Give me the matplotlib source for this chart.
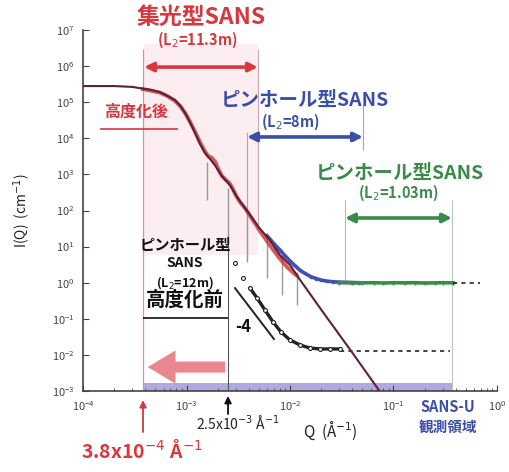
import numpy as np
import matplotlib
matplotlib.use("Agg")
import matplotlib.pyplot as plt
from matplotlib.patches import FancyArrowPatch

plt.rcParams["font.family"] = ["Noto Sans CJK JP", "DejaVu Sans"]
plt.rcParams["mathtext.fontset"] = "dejavusans"

# model curve (solid dark line)
model_q = [1e-4, 2e-4, 3.0e-4, 3.56e-4, 4.5e-4, 5.55e-4, 6.5e-4, 7.74e-4, 8.7e-4, 9.7e-4,
           1.08e-3, 1.21e-3, 1.35e-3, 1.51e-3, 1.7e-3, 1.88e-3, 2.2e-3, 2.63e-3, 3.2e-3,
           4.11e-3, 5.0e-3, 6.41e-3, 8.0e-3, 1.0e-2, 1.25e-2, 2.0e-2, 4.0e-2, 7.0e-2, 8.0e-2]
model_i = [2.8e5, 2.8e5, 2.65e5, 2.45e5, 2.2e5, 1.9e5, 1.5e5, 1.15e5, 8.0e4, 5.0e4,
           2.8e4, 1.4e4, 7.0e3, 3.9e3, 2.6e3, 1.8e3, 9.0e2, 5.0e2, 2.0e2,
           7.6e1, 3.4e1, 1.5e1, 5.8, 3.1, 1.2, 0.18, 1.15e-2, 1.2e-3, 7e-4]

# focusing SANS data (red, after upgrade)
red_q = [3.8e-4, 4.5e-4, 5.5e-4, 6.5e-4, 7.7e-4, 8.7e-4, 9.7e-4, 1.08e-3, 1.2e-3, 1.35e-3,
         1.5e-3, 1.62e-3, 1.75e-3, 1.9e-3, 2.05e-3, 2.2e-3, 2.4e-3, 2.6e-3, 2.8e-3, 3.0e-3,
         3.3e-3, 3.6e-3, 3.9e-3, 4.3e-3, 4.7e-3, 5.2e-3, 5.7e-3, 6.3e-3, 7.0e-3, 7.8e-3,
         8.6e-3, 9.5e-3, 1.05e-2, 1.15e-2]
red_i = [2.3e5, 2.1e5, 1.85e5, 1.5e5, 1.1e5, 7.8e4, 5.0e4, 2.9e4, 1.6e4, 7.8e3,
         4.4e3, 3.2e3, 2.9e3, 2.2e3, 1.3e3, 9.0e2, 7.0e2, 5.8e2, 4.0e2, 2.6e2,
         1.7e2, 1.25e2, 9.0e1, 5.8e1, 4.0e1, 2.5e1, 1.75e1, 1.15e1, 7.6, 5.0,
         3.6, 2.6, 2.0, 1.6]

# error bars of red data reaching down (gray)
err_q = [1.58e-3, 2.52e-3, 3.85e-3, 6.0e-3, 8.4e-3, 1.17e-2]
err_top = [2.2e3, 4.2e2, 1.0e2, 21, 5.9, 2.0]
err_bot = [1.95e2, 13, 3.7, 1.35, 0.46, 0.24]

# pinhole SANS L2=8m (blue)
blue_q = [6e-3, 7e-3, 8e-3, 9e-3, 1.0e-2, 1.1e-2, 1.25e-2, 1.4e-2, 1.6e-2, 1.8e-2,
          2.0e-2, 2.3e-2, 2.6e-2, 3.0e-2, 3.5e-2, 4.0e-2, 4.6e-2]
blue_i = [20, 12, 8.0, 5.5, 4.0, 3.1, 2.2, 1.8, 1.45, 1.3,
          1.18, 1.1, 1.06, 1.04, 1.02, 1.01, 1.0]

# pinhole SANS L2=1.03m (green)
green_q = [0.030, 0.04, 0.05, 0.065, 0.08, 0.1, 0.13, 0.16, 0.2, 0.25, 0.3, 0.376]
green_i = [1.0, 1.0, 0.99, 1.0, 0.98, 1.0, 0.99, 1.0, 0.98, 0.99, 1.0, 0.99]

# pinhole SANS L2=12m (black, before upgrade)
black_q = [2.94e-3, 3.52e-3, 4.11e-3, 4.8e-3, 5.73e-3, 6.86e-3, 8.19e-3, 1.0e-2,
           1.25e-2, 1.56e-2, 1.95e-2, 2.43e-2, 3.04e-2]
black_i = [3.5, 1.35, 0.71, 0.377, 0.175, 0.0815, 0.043, 0.0259,
           0.0188, 0.0155, 0.0146, 0.0146, 0.0146]

# extrapolated backgrounds (dashed)
bg_black_q = [3.04e-2, 0.35]
bg_black_i = [0.013, 0.013]
bg_green_q = [0.376, 0.69]
bg_green_i = [1.0, 1.0]

# slope -4 guide
slope_q = [2.94e-3, 7.0e-3]
slope_i = [0.71, 0.0275]

# Q ranges
q_min_new = 3.8e-4
q_min_old = 2.52e-3
red_range = [3.9e-4, 4.9e-3]
blue_range = [3.85e-3, 0.0507]
green_range = [0.034, 0.367]
sansu_range = [3.8e-4, 0.37]

RED = "#d9363e"
BLUE = "#3b4ea8"
GREEN = "#3a8a4a"

fig = plt.figure(figsize=(5.1, 4.72), dpi=100)
ax = fig.add_axes([83/510, 81/472, 414/510, 361/472])
ax.set_xscale("log")
ax.set_yscale("log")
ax.set_xlim(1e-4, 1e0)
ax.set_ylim(1e-3, 1e7)

# shaded areas
ax.fill_between(red_range, 6, 4e6, color="#fcedf1", zorder=0, lw=0)
ax.fill_between(sansu_range, 1e-3, 1.66e-3, color="#aeaae0", zorder=1, lw=0)

# guide lines
ax.vlines(q_min_new, 1e-3, 3e6, colors="#e58a98", lw=0.9, zorder=1)
ax.vlines(red_range[1], 30, 3e6, colors="#c9a6b0", lw=0.8, zorder=1)
ax.vlines(blue_range[0], 4, 1.5e4, colors="#a0a6cc", lw=0.8, zorder=1)
ax.vlines(blue_range[1], 4.8e3, 8.3e4, colors="#a0a6cc", lw=0.8, zorder=1)
ax.vlines(green_range[0], 1.2, 195, colors="#a8c4ac", lw=0.8, zorder=1)
ax.vlines(green_range[1], 1e-3, 195, colors="#b8c8bc", lw=0.8, zorder=1)
ax.vlines(q_min_old, 1e-3, 15, colors="#555555", lw=0.8, zorder=1)

# data
ax.vlines(err_q, err_bot, err_top, colors="#999999", lw=1.0, zorder=2)
ax.plot(red_q, red_i, color="#cc3038", lw=2.8, alpha=0.8, zorder=3)
ax.plot(blue_q, blue_i, color="#3f51b5", lw=2.6, marker="o", ms=1.5, zorder=3)
ax.plot(green_q, green_i, color=GREEN, lw=2.6, marker="+", ms=3, zorder=3)
ax.plot(black_q[2:], black_i[2:], color="#222222", lw=2.4, zorder=3)
ax.plot(black_q, black_i, ls="none", marker="o", ms=2.8, mfc="white", mec="#222222",
        mew=0.8, zorder=4)
ax.plot(model_q, model_i, color="#5b2333", lw=1.5, zorder=5)
ax.plot(bg_black_q, bg_black_i, color="#222222", lw=1.2, ls=(0, (2.5, 2.5)), zorder=3)
ax.plot(bg_green_q, bg_green_i, color="#222222", lw=1.2, ls=(0, (2.5, 2.5)), zorder=3)
ax.plot(slope_q, slope_i, color="#222222", lw=1.4, zorder=3)

# range arrows
def darrow(q0, q1, y, color):
    ax.annotate("", xy=(q1, y), xytext=(q0, y),
                arrowprops=dict(arrowstyle="<|-|>", color=color, lw=2.6,
                                mutation_scale=13, shrinkA=0, shrinkB=0))

darrow(red_range[0], red_range[1], 9.4e5, RED)
darrow(blue_range[0], blue_range[1], 1.09e4, BLUE)
darrow(green_range[0], green_range[1], 62, GREEN)

# big pink arrow toward low Q
ax.add_patch(FancyArrowPatch((q_min_old, 4.6e-3), (3.97e-4, 4.6e-3),
                             arrowstyle="simple,head_length=20,head_width=24,tail_width=8",
                             mutation_scale=1, color="#e9878f", lw=0, zorder=4))

# arrows below the axis
ax.annotate("", xy=(q_min_new, 5.6e-4), xytext=(q_min_new, 7.3e-5),
            arrowprops=dict(arrowstyle="-|>", color=RED, lw=1.3, mutation_scale=10,
                            shrinkA=0, shrinkB=0), annotation_clip=False)
ax.annotate("", xy=(q_min_old, 7.3e-4), xytext=(q_min_old, 2.3e-4),
            arrowprops=dict(arrowstyle="-|>", color="#111111", lw=1.3, mutation_scale=10,
                            shrinkA=0, shrinkB=0), annotation_clip=False)

# texts
ax.text(1.38e-3, 2.3e7, "集光型SANS", color=RED, fontsize=16.5, fontweight="bold",
        ha="center", va="center", clip_on=False)
ax.text(1.26e-3, 5.3e6, "(L$_2$=11.3m)", color=RED, fontsize=10.5, fontweight="bold",
        ha="center", va="center")
ax.text(3.25e-4, 5.4e4, "高度化後", color=RED, fontsize=11.5, fontweight="bold",
        ha="center", va="center")
ax.hlines(1.8e4, 1.46e-4, 8.3e-4, colors=RED, lw=1.2)

ax.text(1.4e-2, 1.15e5, "ピンホール型SANS", color=BLUE, fontsize=14, fontweight="bold",
        ha="center", va="center")
ax.text(1.0e-2, 2.8e4, "(L$_2$=8m)", color=BLUE, fontsize=10.5, fontweight="bold",
        ha="center", va="center")

ax.text(0.116, 1.1e3, "ピンホール型SANS", color=GREEN, fontsize=14, fontweight="bold",
        ha="center", va="center")
ax.text(0.11, 3.05e2, "(L$_2$=1.03m)", color=GREEN, fontsize=10.5, fontweight="bold",
        ha="center", va="center")

ax.text(9.7e-4, 11, "ピンホール型", color="#111111", fontsize=11, fontweight="bold",
        ha="center", va="center")
ax.text(9.7e-4, 3.5, "SANS", color="#111111", fontsize=10, fontweight="bold",
        ha="center", va="center")
ax.text(9.7e-4, 1.04, "(L$_2$=12m)", color="#111111", fontsize=9, fontweight="bold",
        ha="center", va="center")
ax.text(9.7e-4, 0.33, "高度化前", color="#111111", fontsize=14, fontweight="bold",
        ha="center", va="center")
ax.hlines(0.105, q_min_new, q_min_old, colors="#111111", lw=1.2)
ax.text(3.5e-3, 0.059, "-4", color="#111111", fontsize=12, fontweight="bold",
        ha="center", va="center")

ax.text(3.7e-4, 2.3e-5, "3.8x10$^{-4}$ Å$^{-1}$", color=RED, fontsize=14,
        fontweight="bold", ha="center", va="center", clip_on=False)
ax.text(3.14e-3, 1.3e-4, "2.5x10$^{-3}$ Å$^{-1}$", color="#222222", fontsize=10,
        ha="center", va="center", clip_on=False)
ax.text(2.43e-2, 8.3e-5, "Q  (Å$^{-1}$)", color="#222222", fontsize=11,
        ha="center", va="center", clip_on=False)
ax.text(0.336, 3.6e-4, "SANS-U", color=BLUE, fontsize=10.5, fontweight="bold",
        ha="center", va="center", clip_on=False)
ax.text(0.336, 1.0e-4, "観測領域", color=BLUE, fontsize=10.5, fontweight="bold",
        ha="center", va="center", clip_on=False)

ax.set_ylabel("I(Q)  (cm$^{-1}$)", fontsize=10, color="#222222")
ax.yaxis.set_label_coords(-0.12, 0.5)

# axes styling
ax.set_yticks(10.0 ** np.arange(-3, 8))
ax.set_xticks(10.0 ** np.arange(-4, 1))
ax.yaxis.set_minor_locator(matplotlib.ticker.NullLocator())
ax.tick_params(which="both", direction="in", colors="#444444", labelcolor="#444444",
               labelsize=8)
ax.tick_params(axis="y", which="major", length=4, pad=6)
ax.tick_params(axis="x", which="major", length=4, pad=6)
ax.tick_params(axis="x", which="minor", length=2)
for s in ["top", "right"]:
    ax.spines[s].set_visible(False)
for s in ["left", "bottom"]:
    ax.spines[s].set_color("#444444")
    ax.spines[s].set_linewidth(1.2)

fig.savefig("out.png", dpi=100)
